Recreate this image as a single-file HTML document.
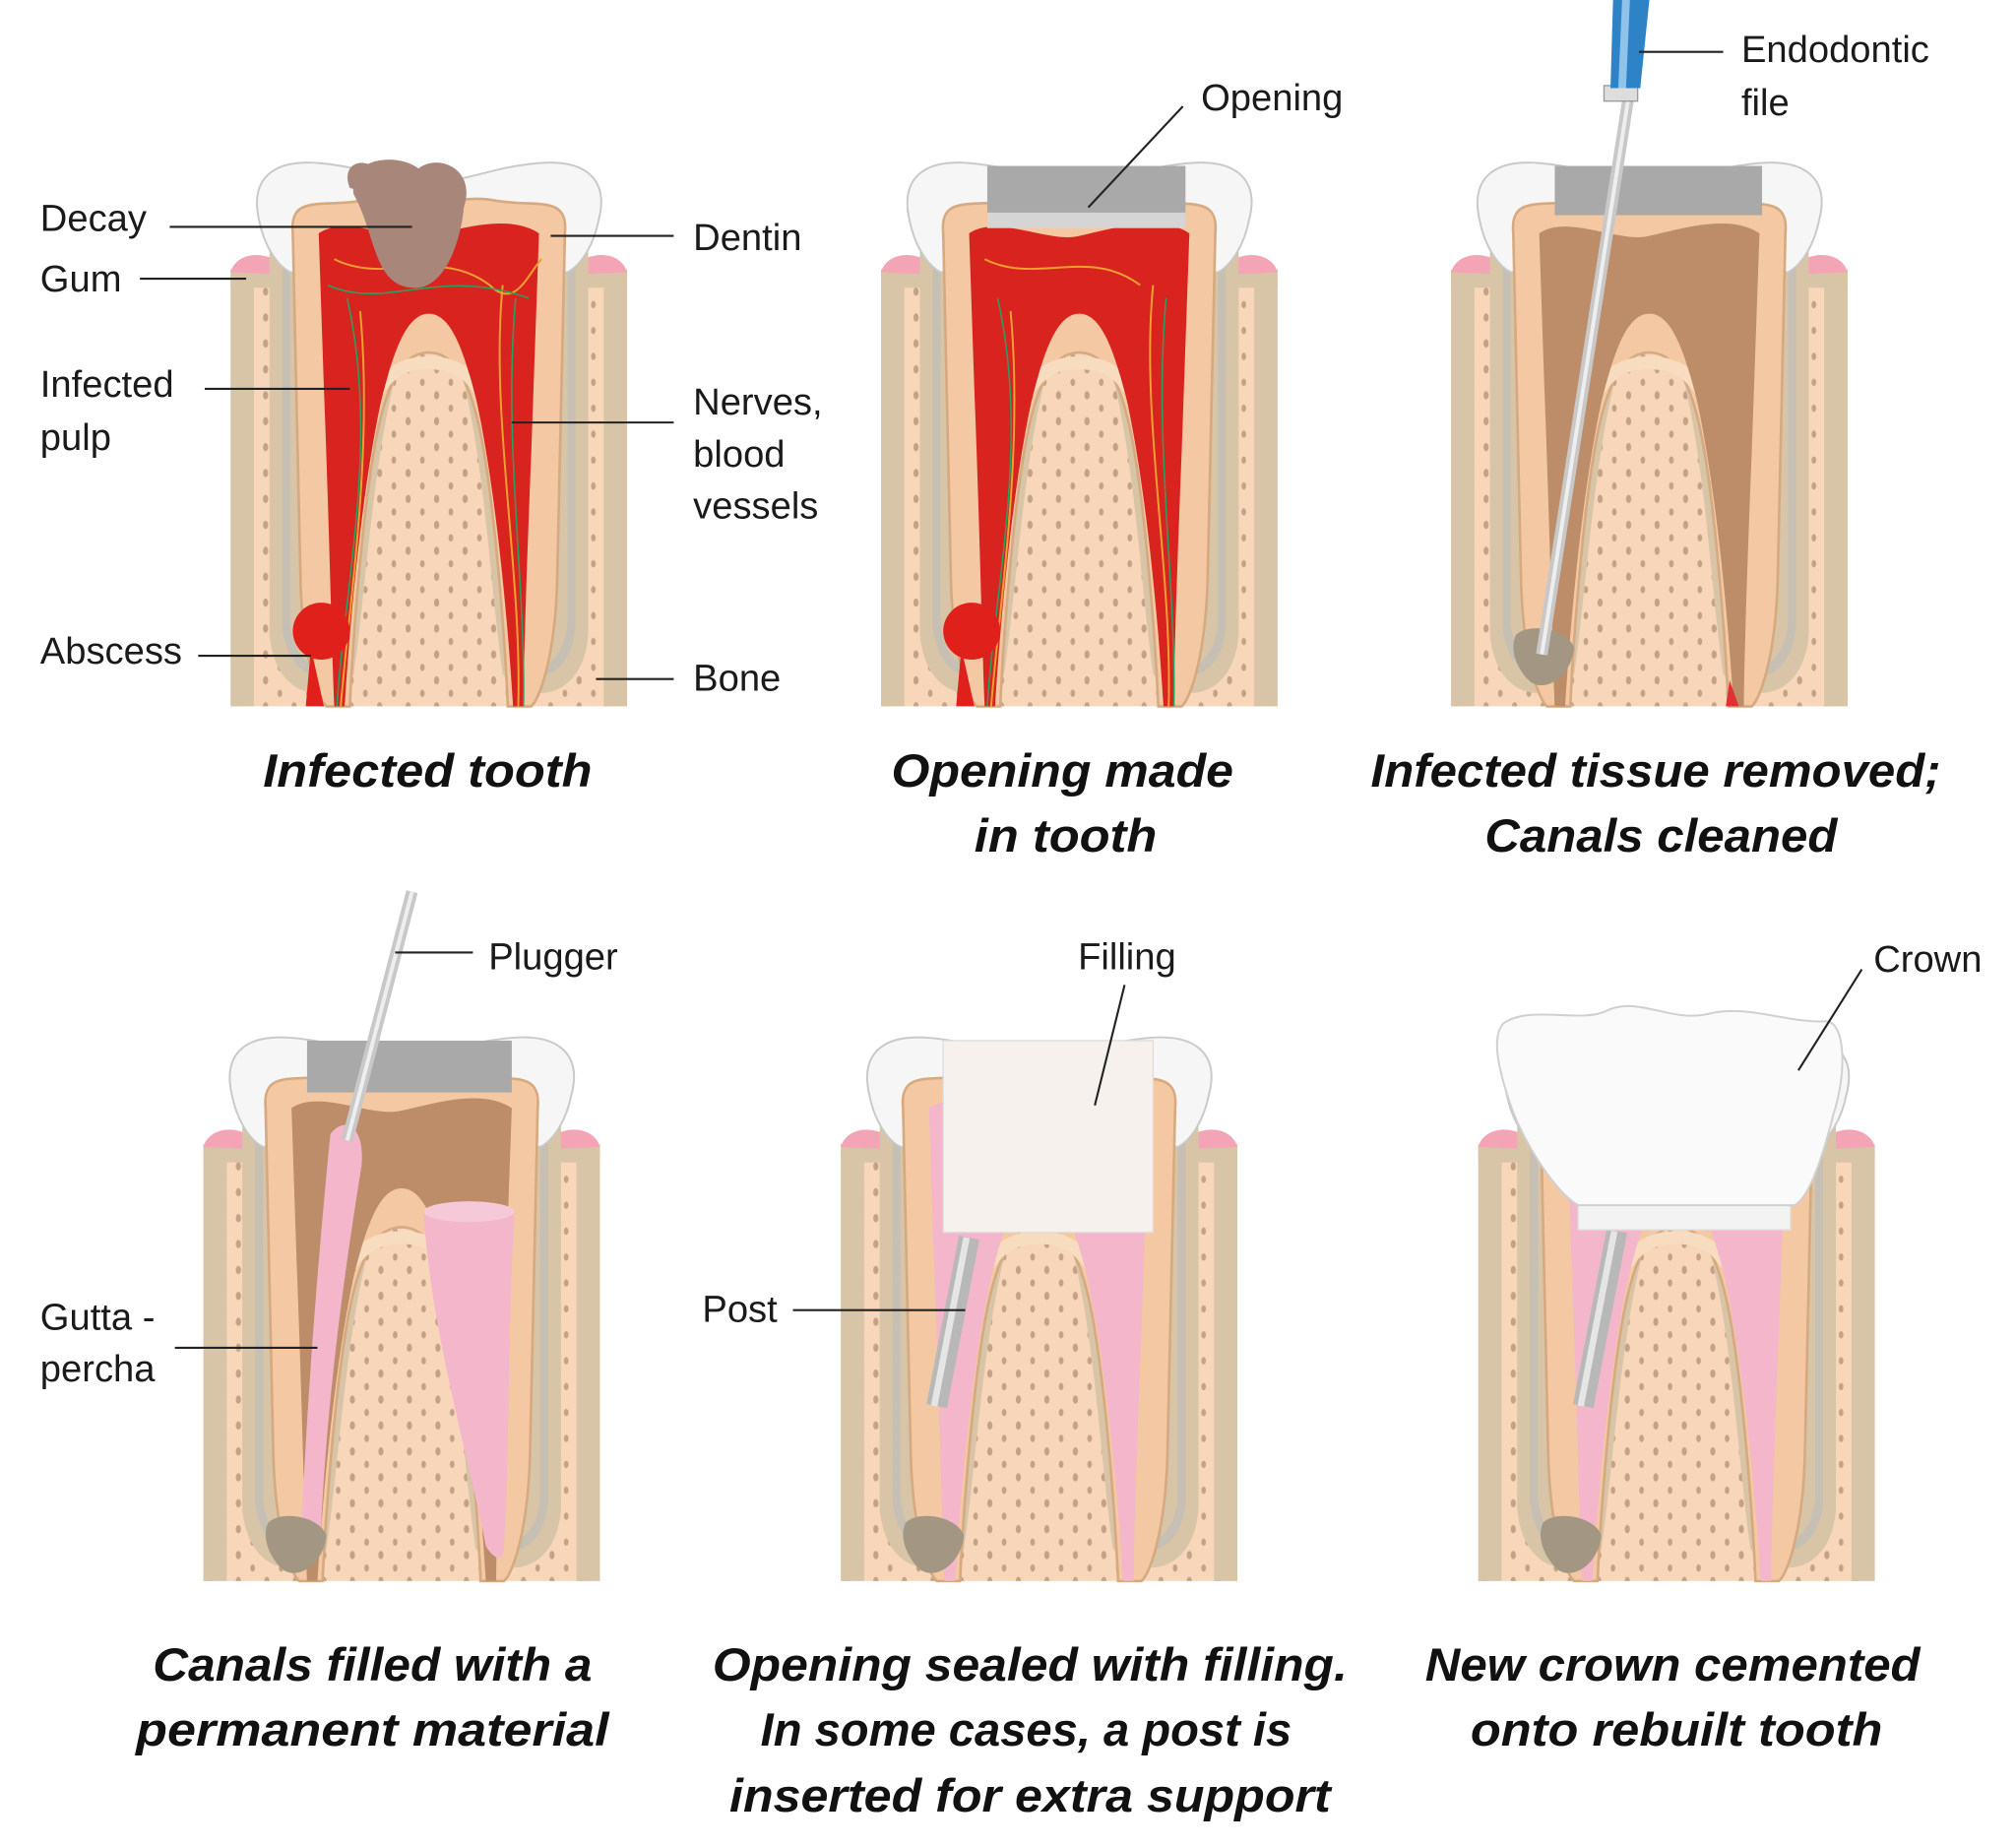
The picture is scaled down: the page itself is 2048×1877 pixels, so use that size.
<!DOCTYPE html>
<html><head><meta charset="utf-8"><style>
html,body{margin:0;padding:0;background:#fff;}
svg{display:block;}
.l{font-family:"Liberation Sans",sans-serif;font-size:29px;fill:#1a1a1a;}
.c{font-family:"Liberation Sans",sans-serif;font-size:36px;font-weight:bold;font-style:italic;fill:#111;}
.ln{stroke:#222;stroke-width:1.6;fill:none;}
</style></head><body>
<svg width="2048" height="1877" viewBox="0 0 1556 1426" xmlns="http://www.w3.org/2000/svg">
<defs>
<pattern id="dots" width="22" height="20" patternUnits="userSpaceOnUse">
<ellipse cx="5" cy="5" rx="2" ry="3.2" fill="#c4a287"/><ellipse cx="16" cy="15" rx="1.8" ry="2.8" fill="#c4a287"/>
</pattern>
<g id="base">
<rect x="0" y="8" width="306" height="337" fill="#f7d6ba"/>
<rect x="0" y="8" width="306" height="337" fill="url(#dots)"/>
<rect x="0" y="8" width="306" height="14" fill="#d8c4a6"/>
<rect x="0" y="8" width="18" height="337" fill="#d8c4a6"/>
<rect x="288" y="8" width="18" height="337" fill="#d8c4a6"/>
<path d="M0,10 C5,-8 35,-8 45,12 Z" fill="#f4a5b5"/>
<path d="M261,12 C271,-8 301,-8 306,10 Z" fill="#f4a5b5"/>
<path d="M30,-10 L30,290 C35,340 75,345 95,320 C105,250 110,150 130,80 C140,55 166,55 176,80 C196,150 200,250 210,320 C230,345 272,340 276,290 L276,-10 Z" fill="#d8c4a6"/>
<path d="M40,-10 L40,285 C45,325 75,330 90,310 C100,240 104,150 124,75 C136,45 170,45 182,75 C202,150 206,240 216,310 C231,330 262,325 266,285 L266,-10 Z" fill="#c5bfb4"/>
<path d="M46,-10 L46,282 C50,318 76,322 86,305 C96,240 99,150 120,72 C134,38 172,38 186,72 C207,150 210,240 220,305 C230,322 256,318 260,282 L260,-10 Z" fill="#d8c4a6"/>
<path d="M22,-30 C15,-60 30,-78 70,-74 C110,-70 120,-60 153,-60 C186,-60 196,-70 236,-74 C276,-78 292,-60 284,-30 C280,-10 270,5 260,10 L46,10 C36,5 26,-10 22,-30 Z" fill="#f6f6f6" stroke="#c9c9c9" stroke-width="1.5"/>
<path d="M48,-20 C45,-50 70,-40 100,-45 C125,-50 140,-42 153,-42 C166,-42 181,-50 206,-45 C236,-40 261,-50 258,-20 L252,250 C250,310 238,340 232,345 L214,345 C212,300 205,200 194,140 C185,92 172,72 153,72 C134,72 121,92 112,140 C101,200 94,300 92,345 L74,345 C68,340 56,310 54,250 Z" fill="#f3c8a2" stroke="#d6aa80" stroke-width="2"/>
<path d="M100,140 C110,90 130,80 153,80 C176,80 196,90 206,140" fill="none" stroke="#f7dcc0" stroke-width="10"/>
</g>
<path id="pulp" d="M68,-20 C90,-35 130,-12 153,-18 C180,-24 215,-35 238,-20 L232,150 C228,250 226,320 226,345 L218,345 C214,280 205,180 190,110 C180,70 170,42 153,42 C136,42 126,70 116,110 C101,180 92,280 88,345 L80,345 C78,300 76,200 72,100 Z"/>
</defs>

<g transform="translate(178,200)">
<use href="#base"/>
<use href="#pulp" fill="#d8231f"/>
<path d="M100,40 C110,150 92,260 85,345 M210,20 C200,120 225,240 222,345 M80,0 C120,20 160,-10 200,20 C220,40 230,10 240,0" fill="none" stroke="#f0a030" stroke-width="1.5"/>
<path d="M90,30 C115,140 88,250 82,345 M220,30 C210,140 228,250 226,345 M75,20 C120,40 160,5 230,30" fill="none" stroke="#2aa060" stroke-width="1.2"/>
<path d="M95,-50 C90,-80 130,-82 145,-70 C160,-82 190,-70 180,-40 C178,-15 165,25 140,22 C110,20 112,-20 95,-50 Z" fill="#a8877a"/>
<path d="M92,-55 C85,-72 100,-80 112,-70 C116,-58 108,-50 92,-55 Z" fill="#a8877a"/>
<circle cx="70" cy="287" r="22" fill="#e0201a"/>
<path d="M62,300 L58,345 L72,345 Z" fill="#e0201a"/>
</g>
<g transform="translate(680,200)">
<use href="#base"/>
<use href="#pulp" fill="#d8231f"/>
<path d="M100,40 C110,150 92,260 85,345 M210,20 C200,120 225,240 222,345 M80,0 C120,20 160,-10 200,20" fill="none" stroke="#f0a030" stroke-width="1.5"/>
<path d="M90,30 C115,140 88,250 82,345 M220,30 C210,140 228,250 226,345" fill="none" stroke="#2aa060" stroke-width="1.2"/>
<rect x="82" y="-72" width="153" height="38" fill="#a9a9a9"/>
<rect x="82" y="-36" width="153" height="12" fill="#d5d5d5"/>
<circle cx="70" cy="287" r="22" fill="#e0201a"/>
<path d="M62,300 L58,345 L72,345 Z" fill="#e0201a"/>
</g>
<g transform="translate(1120,200)">
<use href="#base"/>
<use href="#pulp" fill="#bd8c68"/>
<rect x="80" y="-72" width="160" height="38" fill="#a9a9a9"/>
<path d="M50,290 C60,280 90,285 95,300 C92,325 70,335 60,325 C50,315 45,300 50,290 Z" fill="#a39683"/>
<path d="M215,325 L212,345 L222,345 Z" fill="#d33"/>
</g>
<path d="M1258,68 L1190,505" stroke="#c8c8c8" stroke-width="9"/>
<path d="M1258,68 L1190,505" stroke="#eee" stroke-width="3"/>
<rect x="1238" y="66" width="26" height="12" fill="#ddd" stroke="#999"/>
<path d="M1245,0 L1273,0 L1266,68 L1243,68 Z" fill="#2e83c6"/>
<path d="M1252,0 L1258,0 L1255,68 L1249,68 Z" fill="#8fc3ea"/>
<g transform="translate(157,875)">
<use href="#base"/>
<use href="#pulp" fill="#bd8c68"/>
<rect x="80" y="-72" width="158" height="40" fill="#a9a9a9"/>
<path d="M170,60 C175,150 205,250 218,318 C225,330 232,330 232,318 C236,250 235,150 240,60 Z" fill="#f3b6cb"/>
<ellipse cx="205" cy="60" rx="35" ry="8" fill="#f6c9d8"/>
<path d="M98,0 C110,-15 125,-5 122,25 C110,100 95,200 90,320 C80,330 75,320 76,300 C80,200 90,80 98,0 Z" fill="#f3b6cb"/>
<path d="M50,300 C60,290 90,295 95,310 C92,335 70,345 60,335 C50,325 45,310 50,300 Z" fill="#a39683"/>
</g>
<path d="M318,688 L268,880" stroke="#c8c8c8" stroke-width="9"/>
<path d="M318,688 L268,880" stroke="#eee" stroke-width="3"/>
<g transform="translate(649,875)">
<use href="#base"/>
<use href="#pulp" fill="#f3b6cb"/>
<path d="M50,300 C60,290 90,295 95,310 C92,335 70,345 60,335 C50,325 45,310 50,300 Z" fill="#a39683"/>
<rect x="79" y="-72" width="162" height="148" fill="#f6f1ec" stroke="#ddd"/>
</g>
<path d="M748,955 L723,1085" stroke="#b8b8b8" stroke-width="16"/>
<path d="M746,955 L721,1085" stroke="#e5e5e5" stroke-width="5"/>
<g transform="translate(1141,875)">
<use href="#base"/>
<use href="#pulp" fill="#f3b6cb"/>
<path d="M50,300 C60,290 90,295 95,310 C92,335 70,345 60,335 C50,325 45,310 50,300 Z" fill="#a39683"/>
</g>
<path d="M1248,950 L1222,1085" stroke="#b8b8b8" stroke-width="16"/>
<path d="M1246,950 L1220,1085" stroke="#e5e5e5" stroke-width="5"/>
<rect x="1218" y="915" width="164" height="34" fill="#f3f3f3" stroke="#ddd"/>
<path d="M1160,790 C1180,775 1220,790 1240,780 C1265,768 1290,790 1320,782 C1350,775 1380,790 1410,788 C1425,790 1425,830 1415,860 C1405,900 1395,925 1385,930 L1218,930 C1200,920 1175,880 1165,850 C1155,820 1152,800 1160,790 Z" fill="#fafafa" stroke="#d0d0d0" stroke-width="1.5"/>

<path class="ln" d="M131,175 H318 M108,215 H190 M158,300 H270 M153,506 H240 M425,182 H520 M395,326 H520 M460,524 H520 M913,82 L840,160 M1265,40 H1330 M305,735 H365 M135,1040 H245 M868,760 L845,853 M612,1011 H745 M1437,748 L1388,826"/>

<text class="l" x="31" y="178">Decay</text>
<text class="l" x="31" y="225">Gum</text>
<text class="l" x="31" y="306">Infected</text>
<text class="l" x="31" y="347">pulp</text>
<text class="l" x="31" y="512">Abscess</text>
<text class="l" x="535" y="193">Dentin</text>
<text class="l" x="535" y="320">Nerves,</text>
<text class="l" x="535" y="360">blood</text>
<text class="l" x="535" y="400">vessels</text>
<text class="l" x="535" y="533">Bone</text>
<text class="l" x="927" y="85">Opening</text>
<text class="l" x="1344" y="48">Endodontic</text>
<text class="l" x="1344" y="89">file</text>
<text class="l" x="377" y="748">Plugger</text>
<text class="l" x="31" y="1026">Gutta -</text>
<text class="l" x="31" y="1066">percha</text>
<text class="l" x="832" y="748">Filling</text>
<text class="l" x="542" y="1020">Post</text>
<text class="l" x="1446" y="750">Crown</text>

<text class="c" x="203" y="607" textLength="254" lengthAdjust="spacingAndGlyphs">Infected tooth</text>
<text class="c" x="688" y="607" textLength="264" lengthAdjust="spacingAndGlyphs">Opening made</text>
<text class="c" x="752" y="657" textLength="141" lengthAdjust="spacingAndGlyphs">in tooth</text>
<text class="c" x="1058" y="607" textLength="440" lengthAdjust="spacingAndGlyphs">Infected tissue removed;</text>
<text class="c" x="1146" y="657" textLength="272" lengthAdjust="spacingAndGlyphs">Canals cleaned</text>
<text class="c" x="118" y="1297" textLength="339" lengthAdjust="spacingAndGlyphs">Canals filled with a</text>
<text class="c" x="105" y="1347" textLength="365" lengthAdjust="spacingAndGlyphs">permanent material</text>
<text class="c" x="550" y="1297" textLength="490" lengthAdjust="spacingAndGlyphs">Opening sealed with filling.</text>
<text class="c" x="587" y="1347" textLength="410" lengthAdjust="spacingAndGlyphs">In some cases, a post is</text>
<text class="c" x="563" y="1398" textLength="464" lengthAdjust="spacingAndGlyphs">inserted for extra support</text>
<text class="c" x="1100" y="1297" textLength="382" lengthAdjust="spacingAndGlyphs">New crown cemented</text>
<text class="c" x="1135" y="1347" textLength="318" lengthAdjust="spacingAndGlyphs">onto rebuilt tooth</text>
</svg>
</body></html>
